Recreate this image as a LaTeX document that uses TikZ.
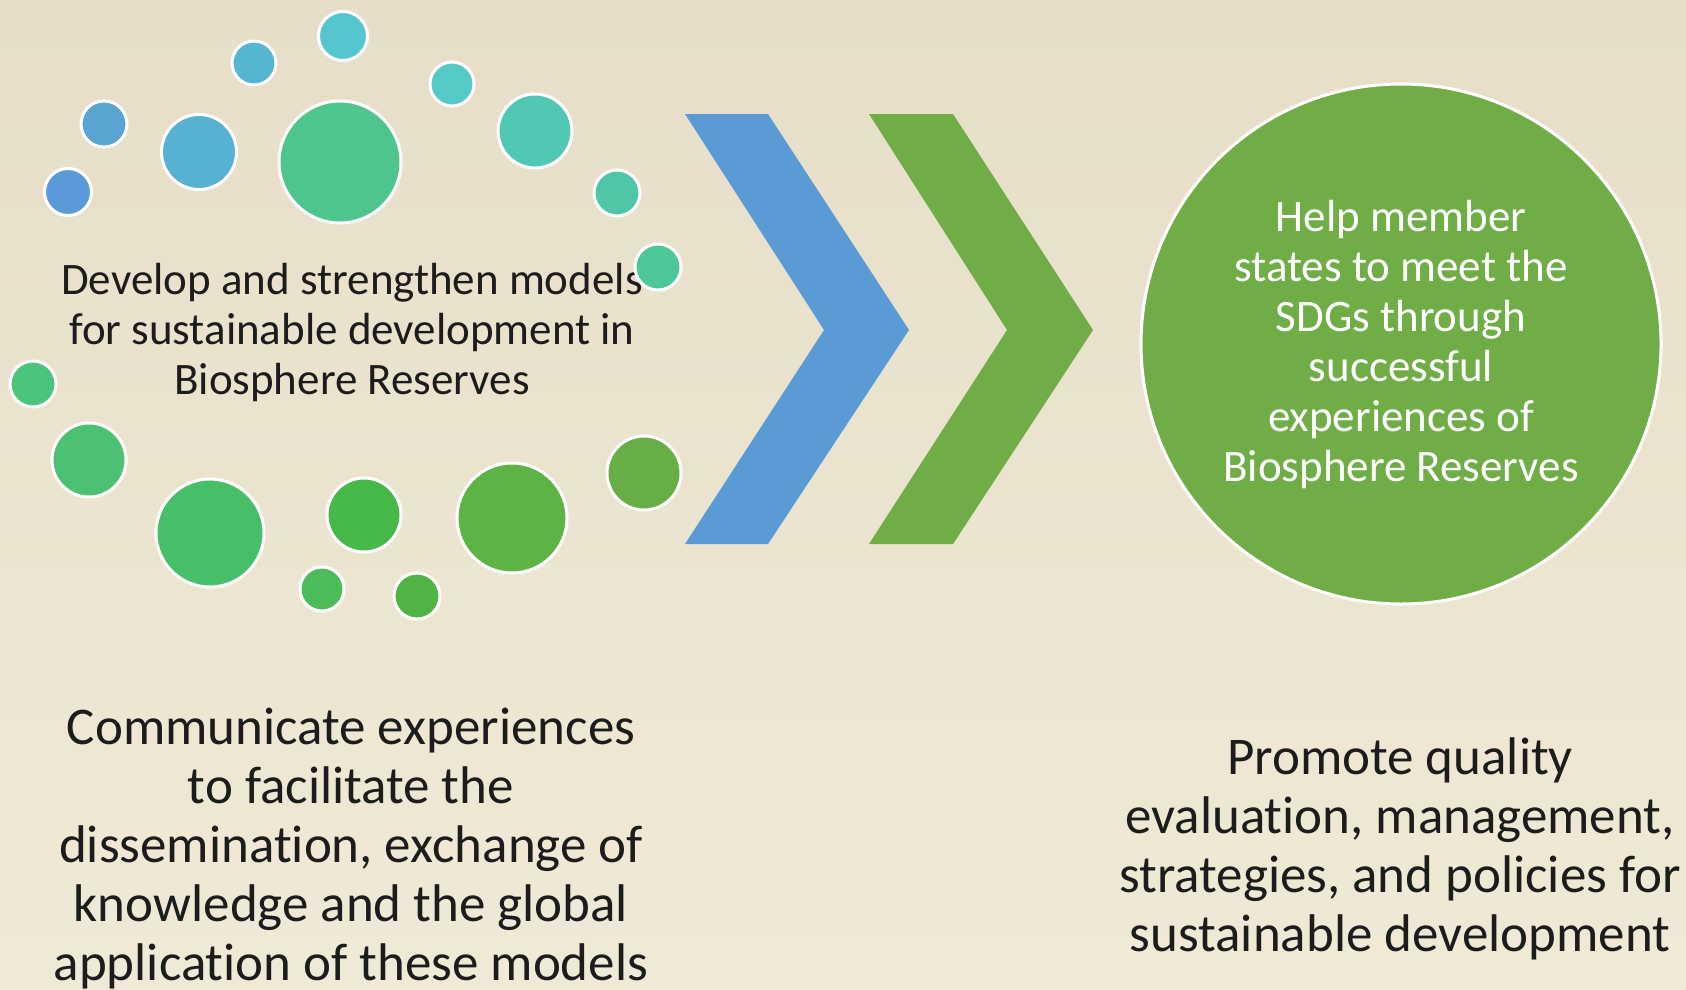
\documentclass[tikz,border=0pt]{standalone}
\usepackage{fontspec}
\setmainfont{Carlito}[Ligatures=NoCommon]
\usepackage{tikz}

\definecolor{paper}{HTML}{E6DEC8}
\definecolor{paperlight}{HTML}{EFEAD7}
\definecolor{chevblue}{HTML}{5B9BD5}
\definecolor{chevgreen}{HTML}{70AD47}
\definecolor{ink}{HTML}{1C1C1C}
\definecolor{dotA}{HTML}{55C6D0}
\definecolor{dotB}{HTML}{56B6D2}
\definecolor{dotC}{HTML}{55CBC8}
\definecolor{dotD}{HTML}{58A5D2}
\definecolor{dotE}{HTML}{57B1D3}
\definecolor{dotF}{HTML}{4FC58E}
\definecolor{dotG}{HTML}{50C8B4}
\definecolor{dotH}{HTML}{5B9AD8}
\definecolor{dotI}{HTML}{4FC6A8}
\definecolor{dotJ}{HTML}{4CC898}
\definecolor{dotK}{HTML}{4BC57E}
\definecolor{dotL}{HTML}{4CC173}
\definecolor{dotM}{HTML}{47BF69}
\definecolor{dotN}{HTML}{45B848}
\definecolor{dotO}{HTML}{5DB444}
\definecolor{dotP}{HTML}{67AE44}
\definecolor{dotQ}{HTML}{4CBB5A}
\definecolor{dotR}{HTML}{50B444}

\begin{document}
\begin{tikzpicture}[x=1pt,y=-1pt]
  \tikzset{
    dot/.style={circle,draw=white,line width=3pt,inner sep=0pt},
    goal/.style={circle,draw=white,line width=3pt,fill=chevgreen,
      minimum size=520pt,inner sep=0pt,text=white,align=center,
      font=\fontsize{45}{50}\selectfont},
    caption/.style={align=center,text=ink,inner sep=0pt,
      font=\fontsize{53}{59}\selectfont}}
  \useasboundingbox (0,0) rectangle (1686,990);
  \shade[top color=paper,bottom color=paperlight] (0,0) rectangle (1686,990);

  % text inside the ring of dots
  \node[align=center,text=ink,inner sep=0pt,
    font=\fontsize{45}{50}\selectfont](models) at (352,332){Develop and strengthen models\\
    for sustainable development in\\ Biosphere Reserves};

  % ring of dots
      \node[dot,fill=dotA,minimum size=49pt](d1) at (343,36){};
      \node[dot,fill=dotB,minimum size=44pt](d2) at (254,63){};
      \node[dot,fill=dotC,minimum size=44pt](d3) at (452,84){};
      \node[dot,fill=dotD,minimum size=46pt](d4) at (104,124){};
      \node[dot,fill=dotE,minimum size=75pt](d5) at (199,152){};
      \node[dot,fill=dotF,minimum size=122pt](d6) at (340,162){};
      \node[dot,fill=dotG,minimum size=74pt](d7) at (535,131){};
      \node[dot,fill=dotH,minimum size=47pt](d8) at (68,192){};
      \node[dot,fill=dotI,minimum size=46pt](d9) at (617,193){};
      \node[dot,fill=dotJ,minimum size=46pt](d10) at (658,267){};
      \node[dot,fill=dotK,minimum size=46pt](d11) at (33,384){};
      \node[dot,fill=dotL,minimum size=74pt](d12) at (89,460){};
      \node[dot,fill=dotM,minimum size=108pt](d13) at (210,533){};
      \node[dot,fill=dotN,minimum size=74pt](d14) at (364,515){};
      \node[dot,fill=dotO,minimum size=110pt](d15) at (512,518){};
      \node[dot,fill=dotP,minimum size=74pt](d16) at (644,473){};
      \node[dot,fill=dotQ,minimum size=44pt](d17) at (322,589){};
      \node[dot,fill=dotR,minimum size=46pt](d18) at (417,596){};

  % chevrons
  \fill[chevblue] (685,114) -- (768,114) -- (909,330) -- (768,544)
    -- (685,544) -- (824,330) -- cycle;
  \fill[chevgreen] (869,114) -- (953,114) -- (1093,330) -- (953,544)
    -- (869,544) -- (1007,330) -- cycle;

  \node[goal](sdg) at (1401,344){Help member\\ states to meet the\\ SDGs through\\
    successful\\ experiences of\\ Biosphere Reserves};

  \node[caption](share) at (351,849){Communicate experiences\\ to facilitate the\\
    dissemination, exchange of\\ knowledge and the global\\ application of these models};
  \node[caption](quality) at (1400,849){Promote quality\\ evaluation, management,\\
    strategies, and policies for\\ sustainable development};

\end{tikzpicture}
\end{document}
